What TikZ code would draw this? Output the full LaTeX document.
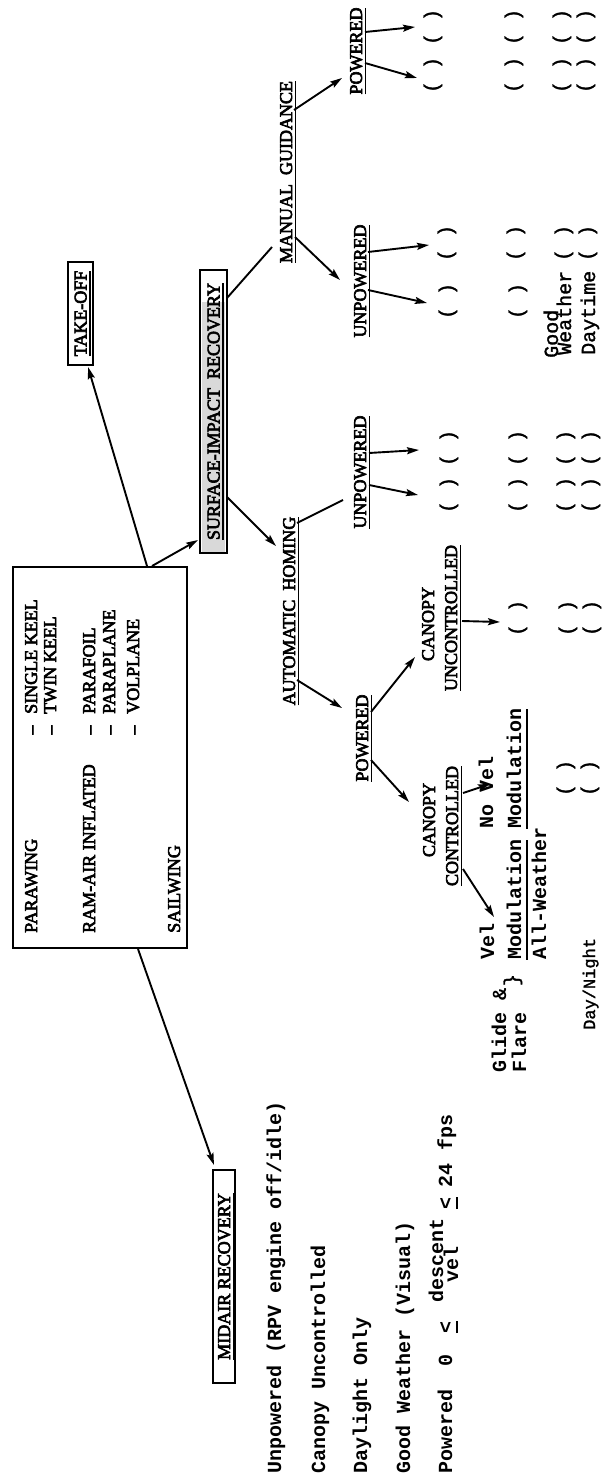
\documentclass[tikz,border=0pt]{standalone}
\usepackage{fontspec}
\setmainfont{Liberation Serif}[FakeBold=3.5]
\newfontfamily\twf{Liberation Mono}
\newfontfamily\twr{Liberation Mono}[FakeBold=1.5]
\usetikzlibrary{arrows.meta}
\newcommand\myul[2][2.5pt]{\setbox0\hbox{#2}\rlap{\rule[\dimexpr-#1-1.5pt\relax]{\wd0}{1.5pt}}\box0}
\begin{document}
\begin{tikzpicture}[x=1pt,y=-1pt,
  hd/.style={rotate=90,font=\fontsize{18}{20}\selectfont,inner sep=0pt,text height=12pt,text depth=0pt},
  bxhd/.style={hd,draw,line width=1.8pt},
  bt/.style={rotate=90,font=\fontsize{18}{20}\selectfont,inner sep=0pt,anchor=base west},
  tw/.style={rotate=90,font=\twr\fontsize{20}{22}\selectfont,inner sep=0pt,anchor=base west},
  twb/.style={tw,font=\twf\bfseries\fontsize{20}{22}\selectfont},
  pr/.style={rotate=90,font=\twr\fontsize{20}{22}\selectfont,inner sep=0pt,text height=13pt,text depth=3pt},
  arr/.style={line width=1.9pt,-{Stealth[length=12pt,width=7pt,inset=2pt]}},
  ln/.style={line width=1.9pt}]
\fill[white] (0,0) rectangle (603,1479);
\useasboundingbox (0,0) rectangle (603,1479);

% ---------- main box ----------
\node[draw,line width=2pt,minimum width=174pt,minimum height=381pt,inner sep=0pt] (box) at (100,757.5) {};
\node[bt] (pw) at (37,933) {PARAWING};
\node[bt,anchor=base] (d1) at (37,730) {--};
\node[bt] (sk) at (37,714) {SINGLE KEEL};
\node[bt,anchor=base] (d2) at (56,730) {--};
\node[bt] (tk) at (56,714) {TWIN KEEL};
\node[bt] (ra) at (95,933) {RAM-AIR INFLATED};
\node[bt,anchor=base] (d3) at (95,730) {--};
\node[bt] (pf) at (95,714) {PARAFOIL};
\node[bt,anchor=base] (d4) at (115,730) {--};
\node[bt] (pp) at (115,714) {PARAPLANE};
\node[bt,anchor=base] (d5) at (139,730) {--};
\node[bt] (vp) at (139,714) {VOLPLANE};
\node[bt] (sw) at (180,933) {SAILWING};

% ---------- boxed headings ----------
\node[bxhd,minimum width=103pt,minimum height=25pt] (to) at (80.5,313.5) {\myul{TAKE-OFF}};
\fill[gray!30] (202,302) rectangle (225,552);
\node[bxhd,minimum width=283pt,minimum height=27pt] (si) at (213.5,411.5) {\myul{SURFACE-IMPACT\ \ RECOVERY}};
\node[bxhd,minimum width=213pt,minimum height=22pt] (mr) at (224,1276.5) {\myul{MIDAIR RECOVERY}};

% ---------- headings ----------
\node[hd] (mg) at (286,172) {\myul{MANUAL\ \ GUIDANCE}};
\node[hd] (pm) at (356,51) {\myul{POWERED}};
\node[hd] (um) at (360,281) {\myul{UNPOWERED}};
\node[hd] (ah) at (289,611) {\myul{AUTOMATIC\ \ HOMING}};
\node[hd] (ua) at (360,472) {\myul{UNPOWERED}};
\node[hd] (pa) at (362,738) {\myul{POWERED}};
\node[hd] (cu1) at (428,624) {CANOPY};
\node[hd] (cu) at (451,618) {\myul{UNCONTROLLED}};
\node[hd] (cc1) at (429,820) {CANOPY};
\node[hd] (cc) at (452,826) {\myul{CONTROLLED}};

% ---------- typewriter labels ----------
\node[twb] (nv) at (493,829) {No Vel};
\node[twb] (nvm) at (521,829) {\myul[5pt]{Modulation}};
\node[twb] (v) at (494,960) {Vel};
\node[twb] (vm) at (521,960) {\myul[5pt]{Modulation}};
\node[twb] (aw) at (546,960) {All-Weather};
\node[twb] (gl) at (506,1073) {Glide \&};
\node[twb] (fl) at (526,1073) {Flare};
\node[pr] (br) at (513,980) {\}};
\node[tw,font=\twr\fontsize{17}{19}\selectfont] (dn) at (595,1030) {Day/Night};
\node[tw] (gd) at (558,358) {Good};
\node[tw] (gw) at (571,355) {Weather};
\node[tw] (dt) at (595,355) {Daytime};

% ---------- left column ----------
\node[twb] (l1) at (281,1474) {Unpowered (RPV engine off/idle)};
\node[twb] (l2) at (325,1474) {Canopy Uncontrolled};
\node[twb] (l3) at (367,1474) {Daylight Only};
\node[twb] (l4) at (410,1474) {Good Weather (Visual)};
\node[twb] (l5) at (452,1474) {Powered};
\node[twb,anchor=base] (l5a) at (452,1360) {0};
\node[twb,anchor=base] (l5b) at (452,1327) {\myul[4pt]{<}};
\node[twb,anchor=base] (l5c) at (443,1260) {descent};
\node[twb,anchor=base] (l5d) at (458,1264) {vel};
\node[twb,anchor=base] (l5e) at (452,1203) {\myul[4pt]{<}};
\node[twb,anchor=base] (l5f) at (452,1175) {24};
\node[twb,anchor=base] (l5g) at (452,1132) {fps};

% ---------- check boxes ( ) ----------
\foreach \x/\n in {433/a,514/b,562/c,586/d}{
  \node[pr] (pm1\n) at (\x,27) {( )};
  \node[pr] (pm2\n) at (\x,75) {( )};}
\foreach \x/\n in {447/a,516/b,564/c,588/d}{
  \node[pr] (um1\n) at (\x,243) {( )};}
\node[pr] (um2a) at (448,301) {( )};
\node[pr] (um2b) at (518,301) {( )};
\foreach \x/\n in {449/a,518/b,566/c,591/d}{
  \node[pr] (ua1\n) at (\x,448) {( )};
  \node[pr] (ua2\n) at (\x,495) {( )};}
\node[pr] (cub) at (518,618) {( )};
\node[pr] (cuc) at (568,618) {( )};
\node[pr] (cud) at (592,618) {( )};
\node[pr] (nvc) at (566,778) {( )};
\node[pr] (nvd) at (590,778) {( )};

% ---------- connector end points ----------
\coordinate (box-t1) at ([xshift=47pt]box.north);
\coordinate (box-t2) at ([xshift=52pt]box.north);
\coordinate (box-b) at ([xshift=38pt]box.south);
\coordinate (to-in) at (88,367);
\coordinate (si-in) at (198,540);
\coordinate (mr-in) at (214,1165);
\coordinate (si-o1) at (227,298);
\coordinate (mg-in) at (272,247);
\coordinate (si-o2) at (227,497);
\coordinate (ah-in) at (276,546);
\coordinate (mg-o1) at (294,110);
\coordinate (pm-in) at (342,78);
\coordinate (mg-o2) at (295,237);
\coordinate (um-in) at (340,280);
\coordinate (pm-o1) at (365,32);
\coordinate (pm-t1) at (415,27);
\coordinate (pm-o2) at (365,63);
\coordinate (pm-t2) at (417,78);
\coordinate (um-o1) at (368,252);
\coordinate (um-t1) at (429,245);
\coordinate (um-o2) at (368,290);
\coordinate (um-t2) at (427,303);
\coordinate (ah-o1) at (297,523);
\coordinate (ua-in) at (343,500);
\coordinate (ah-o2) at (297,680);
\coordinate (pa-in) at (342,708);
\coordinate (ua-o1) at (369,453);
\coordinate (ua-t1) at (419,450);
\coordinate (ua-o2) at (369,485);
\coordinate (ua-t2) at (418,495);
\coordinate (pa-o1) at (371,712);
\coordinate (cu-in) at (415,657);
\coordinate (pa-o2) at (371,760);
\coordinate (cc-in) at (409,802);
\coordinate (cu-o) at (462,621);
\coordinate (cu-t) at (500,622);
\coordinate (cc-o1) at (463,793);
\coordinate (nv-in) at (490,784);
\coordinate (cc-o2) at (463,869);
\coordinate (v-in) at (494,917);

% ---------- connectors ----------
\draw[arr] (box-t1) -- (to-in);
\draw[arr] (box-t2) -- (si-in);
\draw[arr] (box-b) -- (mr-in);
\draw[ln] (si-o1) -- (mg-in);
\draw[arr] (si-o2) -- (ah-in);
\draw[arr] (mg-o1) -- (pm-in);
\draw[arr] (mg-o2) -- (um-in);
\draw[arr] (pm-o1) -- (pm-t1);
\draw[arr] (pm-o2) -- (pm-t2);
\draw[arr] (um-o1) -- (um-t1);
\draw[arr] (um-o2) -- (um-t2);
\draw[ln] (ah-o1) -- (ua-in);
\draw[arr] (ah-o2) -- (pa-in);
\draw[arr] (ua-o1) -- (ua-t1);
\draw[arr] (ua-o2) -- (ua-t2);
\draw[arr] (pa-o1) -- (cu-in);
\draw[arr] (pa-o2) -- (cc-in);
\draw[arr] (cu-o) -- (cu-t);
\draw[arr] (cc-o1) -- (nv-in);
\draw[arr] (cc-o2) -- (v-in);
\end{tikzpicture}
\end{document}
